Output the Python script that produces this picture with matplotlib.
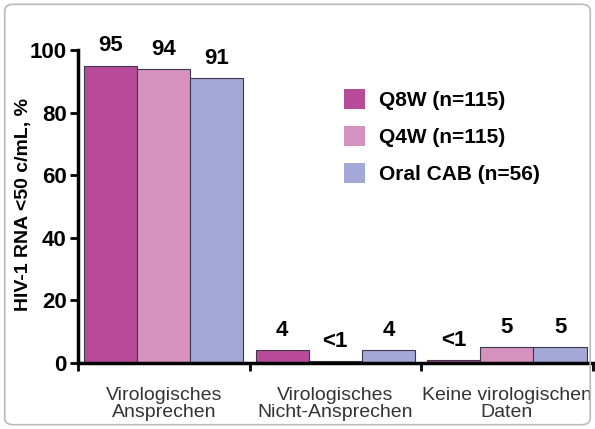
import matplotlib.pyplot as plt
import numpy as np
from matplotlib.patches import FancyBboxPatch

plt.rcParams['font.family'] = ['Liberation Sans', 'DejaVu Sans']

# Datos del gráfico
categorias = ['Virologisches\nAnsprechen', 'Virologisches\nNicht-Ansprechen', 'Keine virologischen\nDaten']
series = ['Q8W (n=115)', 'Q4W (n=115)', 'Oral CAB (n=56)']
q8w = [95, 4, 0.8]
q4w = [94, 0.6, 5]
oral_cab = [91, 4, 5]
etiquetas_q8w = ['95', '4', '<1']
etiquetas_q4w = ['94', '<1', '5']
etiquetas_oral = ['91', '4', '5']
colores = ['#B84A9A', '#D592BF', '#A4A8D6']

fig = plt.figure(figsize=(5.95, 4.29), dpi=100)
ax = fig.add_axes([0.131, 0.154, 0.865, 0.729])

# Marco redondeado alrededor de la figura
marco = FancyBboxPatch((0.008, 0.01), 0.984, 0.98, boxstyle='round,pad=0,rounding_size=0.015',
                       transform=fig.transFigure, facecolor='none', edgecolor='#BBBBBB', linewidth=1.2)
fig.patches.append(marco)

x = np.arange(len(categorias)) + 0.5
ancho = 0.31
valores = [q8w, q4w, oral_cab]
etiquetas = [etiquetas_q8w, etiquetas_q4w, etiquetas_oral]
for i, (vals, etq) in enumerate(zip(valores, etiquetas)):
    pos = x + (i - 1) * ancho
    ax.bar(pos, vals, width=ancho, color=colores[i], edgecolor='#3A3A4A', linewidth=0.8, label=series[i])
    for p, v, t in zip(pos, vals, etq):
        ax.text(p, v + 3, t, ha='center', va='bottom', fontsize=16, fontweight='bold')

ax.set_xlim(0, 3)
ax.set_ylim(0, 100)
ax.set_yticks([0, 20, 40, 60, 80, 100])
ax.set_xticks([0, 1, 2, 3])
ax.set_xticklabels([])
ax.set_xticks(x, minor=True)
ax.set_xticklabels(categorias, minor=True, fontsize=14, color='#333333', linespacing=1.0)
ax.tick_params(axis='x', which='minor', length=0, pad=17)
ax.tick_params(axis='x', which='major', length=6, width=2, direction='out')
ax.tick_params(axis='y', labelsize=16, length=6, width=2, pad=2)
for lab in ax.get_yticklabels():
    lab.set_fontweight('bold')
ax.set_ylabel('HIV-1 RNA <50 c/mL, %', fontsize=14, fontweight='bold')
ax.yaxis.set_label_coords(-0.09, 0.505)

for lado in ['top', 'right']:
    ax.spines[lado].set_visible(False)
ax.spines['left'].set_linewidth(2.5)
ax.spines['bottom'].set_linewidth(2.5)

leyenda = ax.legend(loc='upper left', bbox_to_anchor=(0.48, 0.935), frameon=False,
                    prop={'size': 15, 'weight': 'bold'}, handlelength=1.0, handleheight=1.1,
                    labelspacing=0.75, handletextpad=0.7)
# Cuadros de la leyenda sin borde
for h in leyenda.legend_handles:
    h.set_edgecolor('none')

plt.savefig('out.png', dpi=100)
